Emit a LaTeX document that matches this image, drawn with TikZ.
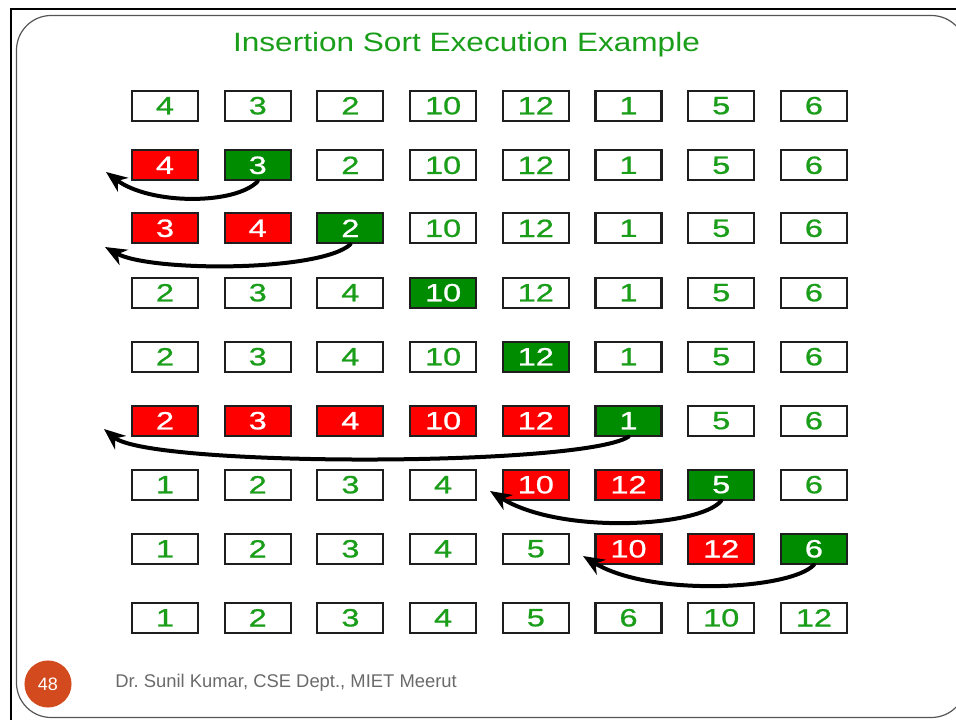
\documentclass[tikz,border=0pt]{standalone}
\usepackage{fontspec}
\setmainfont{Liberation Sans}
\newfontfamily\digitfont[FakeBold=0.8]{Liberation Sans}
\usetikzlibrary{arrows.meta}

\definecolor{pickgreen}{HTML}{008C00}
\definecolor{movedred}{HTML}{FF0000}
\definecolor{digitgreen}{HTML}{1A9E1A}
\definecolor{cellborder}{HTML}{1E1E1E}
\definecolor{badge}{HTML}{D24A1E}
\definecolor{footgray}{HTML}{6A6A6A}
\definecolor{slideline}{HTML}{555555}

\newcommand{\widedigits}[1]{\scalebox{1.3}[1]{#1}}

\begin{document}
\frenchspacing
\begin{tikzpicture}[x=0.75pt,y=-0.75pt,
  cellbase/.style={draw=cellborder, line width=1.6pt,
    minimum width=49.5pt, minimum height=22.5pt, inner sep=0pt,
    font=\digitfont\fontsize{18.75}{20}\selectfont},
  cellidle/.style={cellbase, fill=white, text=digitgreen},
  cellmoved/.style={cellbase, fill=movedred, text=white},
  cellpick/.style={cellbase, fill=pickgreen, text=white},
  swing/.style={line width=3pt, line cap=round,
    -{Stealth[length=16pt,width=13pt,inset=5pt]}}]

\useasboundingbox (0,0) rectangle (956,720);
\clip (0,0) rectangle (956,720);

% slide frame
\draw[line width=1.9pt] (10,9) -- (956,9);
\draw[line width=1.9pt] (11,9) -- (11,720);
\draw[slideline, line width=0.9pt, rounded corners=26pt]
  (16.5,15.5) rectangle (966,717.5);

% title
\node[anchor=base, inner sep=0pt, text=digitgreen,
      font=\fontsize{19.9}{22}\selectfont] (title) at (466.5,51.7)
  {\scalebox{1.19}[1]{Insertion Sort Execution Example}};

% array states, one row per pass
\foreach \r/\yy/\cells in {
  1/105.7/{4/cellidle,3/cellidle,2/cellidle,10/cellidle,12/cellidle,1/cellidle,5/cellidle,6/cellidle},
  2/165.3/{4/cellmoved,3/cellpick,2/cellidle,10/cellidle,12/cellidle,1/cellidle,5/cellidle,6/cellidle},
  3/228.3/{3/cellmoved,4/cellmoved,2/cellpick,10/cellidle,12/cellidle,1/cellidle,5/cellidle,6/cellidle},
  4/292.7/{2/cellidle,3/cellidle,4/cellidle,10/cellpick,12/cellidle,1/cellidle,5/cellidle,6/cellidle},
  5/356.7/{2/cellidle,3/cellidle,4/cellidle,10/cellidle,12/cellpick,1/cellidle,5/cellidle,6/cellidle},
  6/420.7/{2/cellmoved,3/cellmoved,4/cellmoved,10/cellmoved,12/cellmoved,1/cellpick,5/cellidle,6/cellidle},
  7/484.7/{1/cellidle,2/cellidle,3/cellidle,4/cellidle,10/cellmoved,12/cellmoved,5/cellpick,6/cellidle},
  8/548.8/{1/cellidle,2/cellidle,3/cellidle,4/cellidle,5/cellidle,10/cellmoved,12/cellmoved,6/cellpick},
  9/617.8/{1/cellidle,2/cellidle,3/cellidle,4/cellidle,5/cellidle,6/cellidle,10/cellidle,12/cellidle}}
{
  \foreach \v/\s [count=\c] in \cells
    \node[\s] (c\r-\c) at ({165+(\c-1)*92.7},\yy) {\widedigits{\v}};
}

% arrow targets
\coordinate (t2) at (106,172);
\coordinate (t3) at (105,247);
\coordinate (t6) at (104,429);
\coordinate (t7) at (490,491);
\coordinate (t8) at (583,556);

% insertion moves
\draw[swing] (c2-2.south) .. controls (235,205) and (150,205) .. (t2);
\draw[swing] (c3-3.south) .. controls (320,272) and (150,272) .. (t3);
\draw[swing] (c6-6.south) .. controls (580,467) and (150,467) .. (t6);
\draw[swing] (c7-7.south) .. controls (700,527) and (560,535) .. (t7);
\draw[swing] (c8-8.south) .. controls (790,590) and (650,597) .. (t8);

% footer
\node[circle, fill=badge, minimum size=35.3pt, inner sep=0pt, text=white,
      font=\fontsize{13.5}{15}\selectfont] (page) at (48,684) {48};
\node[anchor=base west, inner sep=0pt, text=footgray,
      font=\fontsize{13.8}{16}\selectfont] (footer) at (115,687)
  {Dr. Sunil Kumar, CSE Dept., MIET Meerut};

\end{tikzpicture}
\end{document}
